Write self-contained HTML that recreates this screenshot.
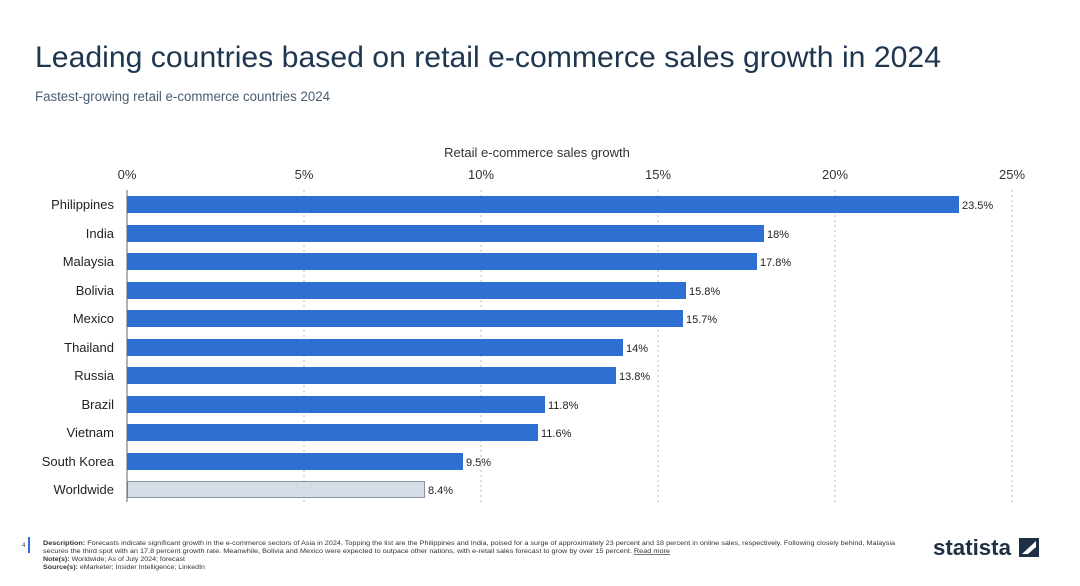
<!DOCTYPE html>
<html><head><meta charset="utf-8"><style>
body{margin:0;background:#fff;font-family:"Liberation Sans","DejaVu Sans",sans-serif;}
</style></head><body>
<svg width="1080" height="581" xmlns="http://www.w3.org/2000/svg" font-family="Liberation Sans, DejaVu Sans, sans-serif">
<rect width="1080" height="581" fill="#fff"/>
<text x="35" y="67" font-size="30" fill="#1f3650" textLength="906" lengthAdjust="spacingAndGlyphs">Leading countries based on retail e-commerce sales growth in 2024</text>
<text x="35" y="101" font-size="13.5" fill="#4a5d73" textLength="295" lengthAdjust="spacingAndGlyphs">Fastest-growing retail e-commerce countries 2024</text>
<text x="537" y="157" font-size="13" fill="#333" text-anchor="middle">Retail e-commerce sales growth</text>
<g font-size="13" fill="#333" text-anchor="middle">
<text x="127" y="179">0%</text><text x="304" y="179">5%</text><text x="481" y="179">10%</text>
<text x="658" y="179">15%</text><text x="835" y="179">20%</text><text x="1012" y="179">25%</text>
</g>
<g stroke="#bbb" stroke-dasharray="2,3" stroke-width="1">
<line x1="304" y1="190" x2="304" y2="502"/><line x1="481" y1="190" x2="481" y2="502"/>
<line x1="658" y1="190" x2="658" y2="502"/><line x1="835" y1="190" x2="835" y2="502"/>
<line x1="1012" y1="190" x2="1012" y2="502"/>
</g>
<g fill="#2e6fd2">
<rect x="127" y="196" width="832" height="17"/>
<rect x="127" y="225" width="637" height="17"/>
<rect x="127" y="253" width="630" height="17"/>
<rect x="127" y="282" width="559" height="17"/>
<rect x="127" y="310" width="556" height="17"/>
<rect x="127" y="339" width="496" height="17"/>
<rect x="127" y="367" width="489" height="17"/>
<rect x="127" y="396" width="418" height="17"/>
<rect x="127" y="424" width="411" height="17"/>
<rect x="127" y="453" width="336" height="17"/>
</g>
<rect x="127.5" y="481.5" width="297" height="16" fill="#d5dce6" stroke="#8a96a6"/>
<line x1="127" y1="190" x2="127" y2="502" stroke="#666"/>
<g font-size="13" fill="#222" text-anchor="end">
<text x="114" y="209">Philippines</text><text x="114" y="238">India</text><text x="114" y="266">Malaysia</text>
<text x="114" y="295">Bolivia</text><text x="114" y="323">Mexico</text><text x="114" y="352">Thailand</text>
<text x="114" y="380">Russia</text><text x="114" y="409">Brazil</text><text x="114" y="437">Vietnam</text>
<text x="114" y="466">South Korea</text><text x="114" y="494">Worldwide</text>
</g>
<g font-size="11" fill="#222">
<text x="962" y="209">23.5%</text><text x="767" y="238">18%</text><text x="760" y="266">17.8%</text>
<text x="689" y="295">15.8%</text><text x="686" y="323">15.7%</text><text x="626" y="352">14%</text>
<text x="619" y="380">13.8%</text><text x="548" y="409">11.8%</text><text x="541" y="437">11.6%</text>
<text x="466" y="466">9.5%</text><text x="428" y="494">8.4%</text>
</g>
<text x="22" y="547" font-size="6" fill="#444">4</text>
<rect x="28" y="537" width="2" height="16" fill="#2e6fd2"/>
<g font-size="6.5" fill="#333">
<text x="43" y="545" textLength="852" lengthAdjust="spacingAndGlyphs"><tspan font-weight="bold">Description:</tspan> Forecasts indicate significant growth in the e-commerce sectors of Asia in 2024. Topping the list are the Philippines and India, poised for a surge of approximately 23 percent and 18 percent in online sales, respectively. Following closely behind, Malaysia</text>
<text x="43" y="553" textLength="627" lengthAdjust="spacingAndGlyphs">secures the third spot with an 17.8 percent growth rate. Meanwhile, Bolivia and Mexico were expected to outpace other nations, with e-retail sales forecast to grow by over 15 percent. <tspan text-decoration="underline">Read more</tspan></text>
<text x="43" y="561" textLength="142" lengthAdjust="spacingAndGlyphs"><tspan font-weight="bold">Note(s):</tspan> Worldwide; As of July 2024; forecast</text>
<text x="43" y="569" textLength="162" lengthAdjust="spacingAndGlyphs"><tspan font-weight="bold">Source(s):</tspan> eMarketer; Insider Intelligence; LinkedIn</text>
</g>
<text x="933" y="555" font-size="22" font-weight="bold" fill="#1f2f45" textLength="78" lengthAdjust="spacingAndGlyphs">statista</text>
<rect x="1019" y="538" width="20" height="19" fill="#1f2f45"/>
<path d="M1022 554 L1036 541 L1036 547 L1028 554 Z" fill="#fff"/>
</svg>
</body></html>
